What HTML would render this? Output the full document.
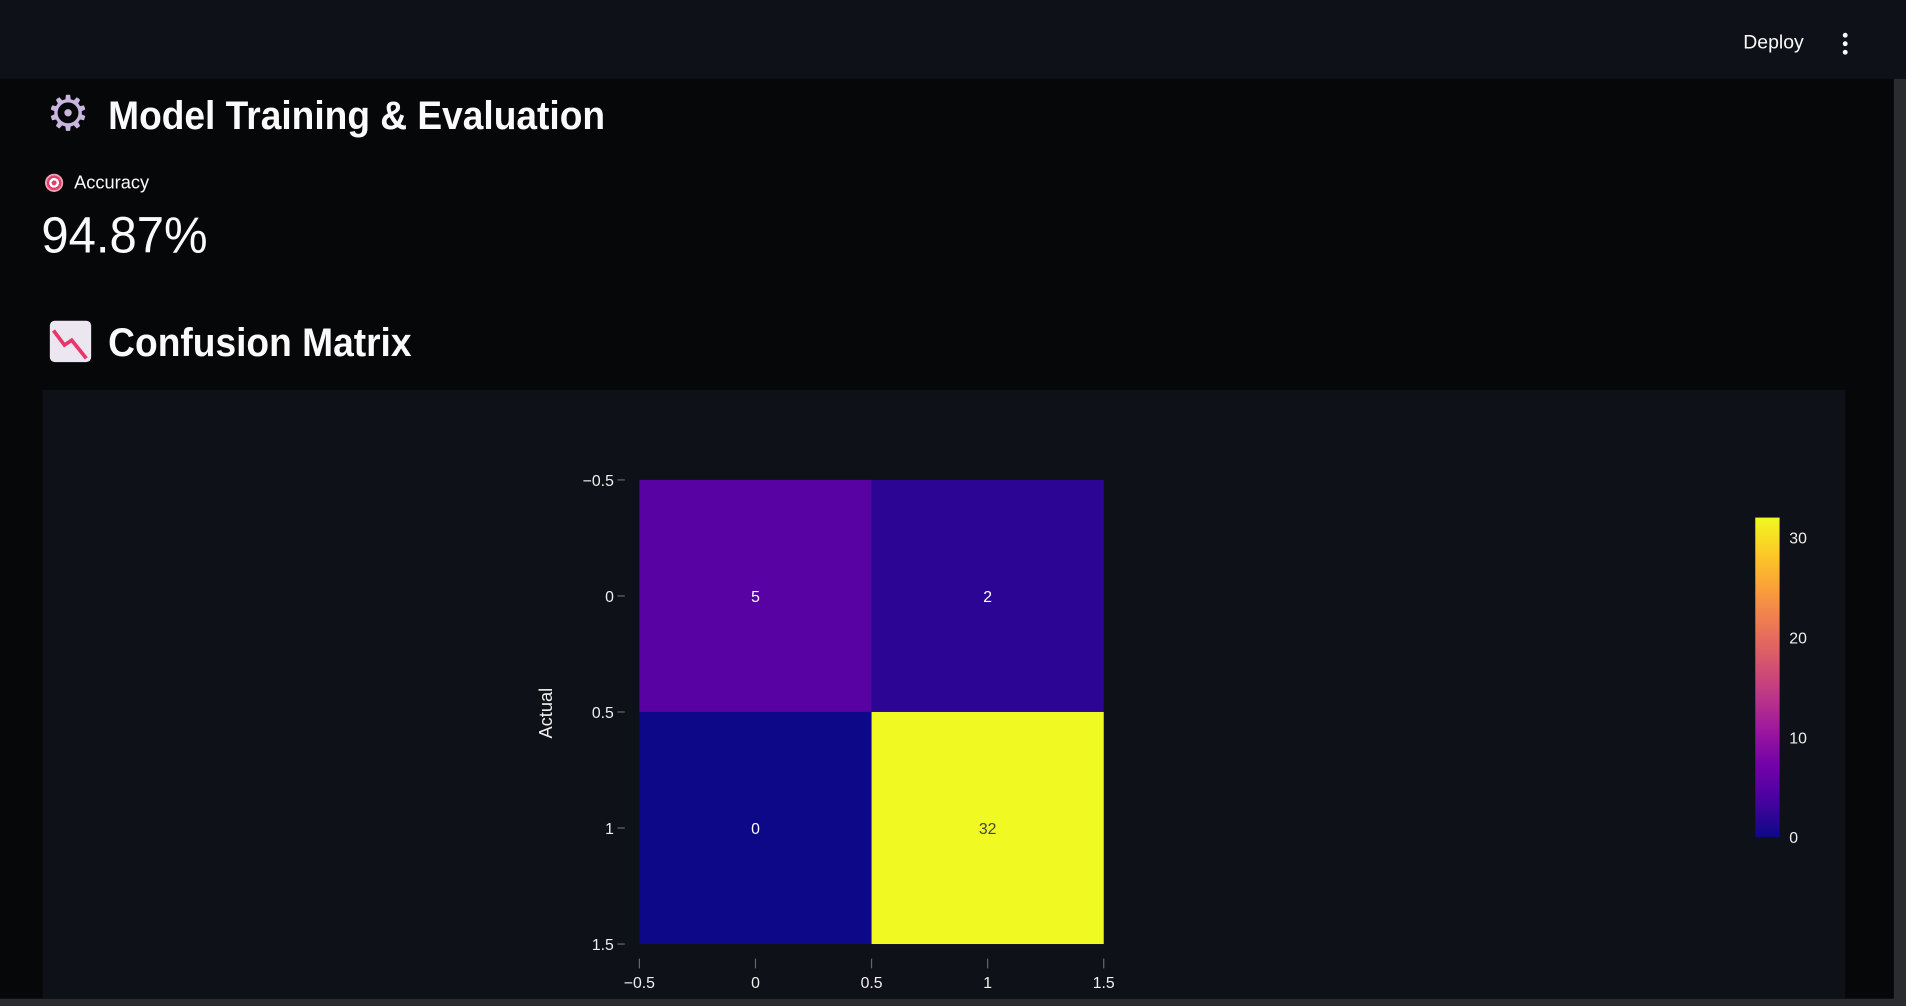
<!DOCTYPE html>
<html><head><meta charset="utf-8">
<style>
html,body{margin:0;padding:0;width:1906px;height:1006px;overflow:hidden;background:#060709;}
#wrap{position:absolute;left:0;top:0;width:1568px;height:828px;transform:scale(1.21556,1.21498);transform-origin:0 0;font-family:"Liberation Sans","DejaVu Sans",sans-serif;color:#fafafa;}
.abs{position:absolute;}
</style></head>
<body>
<div id="wrap">
  <div class="abs" style="left:0;top:0;width:1568px;height:65px;background:#0e1117;"></div>
  <div class="abs" style="left:1424px;top:24px;width:70px;height:24px;font-size:16px;line-height:24px;text-align:center;">Deploy</div>
  <div class="abs" style="left:1508px;top:24px;width:20px;height:24px;">
    <div style="position:absolute;left:8px;top:3px;width:4px;height:4px;border-radius:2px;background:#fafafa"></div>
    <div style="position:absolute;left:8px;top:10px;width:4px;height:4px;border-radius:2px;background:#fafafa"></div>
    <div style="position:absolute;left:8px;top:17px;width:4px;height:4px;border-radius:2px;background:#fafafa"></div>
  </div>
  <div class="abs" style="left:1558px;top:65px;width:10px;height:763px;background:#2a2c30;"></div>
  <div class="abs" style="left:0;top:822px;width:1568px;height:6px;background:#2a2c30;"></div>

  <div class="abs" style="left:38px;top:74px;width:40px;height:40px;font-size:40px;line-height:40px;color:#c8b6e0;">⚙</div>
  <div class="abs" style="left:89px;top:74px;font-size:33px;font-weight:bold;line-height:42px;white-space:nowrap;transform:scaleX(0.925);transform-origin:0 0;">Model Training &amp; Evaluation</div>

  <div class="abs" style="left:37px;top:143px;width:15px;height:15px;border-radius:50%;background:radial-gradient(circle,#e0406a 0 2px,#fff 2px 4px,#e0406a 4px 6px,#f0a0b0 6px);"></div>
  <div class="abs" style="left:61px;top:141px;font-size:15px;line-height:20px;">Accuracy</div>
  <div class="abs" style="left:34px;top:168px;font-size:42px;line-height:52px;transform:scaleX(0.96);transform-origin:0 0;">94.87%</div>

  <div class="abs" style="left:41px;top:264px;width:34px;height:34px;border-radius:4px;background:#ece6f0;overflow:hidden;">
    <svg width="34" height="34"><polyline points="3,8 12,20 18,16 30,31" fill="none" stroke="#e8356a" stroke-width="3"/></svg>
  </div>
  <div class="abs" style="left:89px;top:261px;font-size:33px;font-weight:bold;line-height:42px;white-space:nowrap;transform:scaleX(0.926);transform-origin:0 0;">Confusion Matrix</div>

  <div class="abs" style="left:35px;top:321px;width:1483px;height:501px;background:#0e1117;"></div>
  <svg id="chart" class="abs" style="left:0;top:0;" width="1568" height="828"></svg>
</div>
<script>
const xCats=[0,1];
const yCats=[0,1];
const zValues=[[5,2],[0,32]];
const tickLabels=[-0.5,0,0.5,1,1.5];
const cbTicks=[0,10,20,30];
const zMin=0, zMax=32;

const NS='http://www.w3.org/2000/svg';
const svg=document.getElementById('chart');
const px0=526, px1=908, py0=395, py1=777;
function xs(v){return px0+(v+0.5)/2*(px1-px0);}
function ys(v){return py0+(v+0.5)/2*(py1-py0);}
const plasma=['#0d0887','#46039f','#7201a8','#9c179e','#bd3786','#d8576b','#ed7953','#fb9f3a','#fdca26','#f0f921'];
function hex(h){return [1,3,5].map(i=>parseInt(h.substr(i,2),16));}
function color(z){let t=(z-zMin)/(zMax-zMin)*(plasma.length-1);let i=Math.min(Math.floor(t),plasma.length-2);let f=t-i;let a=hex(plasma[i]),b=hex(plasma[i+1]);return 'rgb('+a.map((c,k)=>Math.round(c+(b[k]-c)*f)).join(',')+')';}
function mk(tag,attrs,text){const e=document.createElementNS(NS,tag);for(const k in attrs)e.setAttribute(k,attrs[k]);if(text!==undefined)e.textContent=text;svg.appendChild(e);return e;}
const F='"Liberation Sans","DejaVu Sans",sans-serif';
yCats.forEach((yv,r)=>{xCats.forEach((xv,c)=>{
  const z=zValues[r][c];
  const rect=mk('rect',{x:xs(xv-0.5),y:ys(yv-0.5),width:xs(xv+0.5)-xs(xv-0.5),height:ys(yv+0.5)-ys(yv-0.5),fill:color(z)});
  
  
  const t=mk('text',{x:xs(xv),y:ys(yv)+5,'text-anchor':'middle','font-size':13,'font-family':F,fill:z>20?'#444':'#fff'},String(z));
  
  
});});
tickLabels.forEach(v=>{
  const l=mk('line',{x1:508,x2:514,y1:ys(v),y2:ys(v),stroke:'#666'});
  
  
  const t=mk('text',{x:505,y:ys(v)+5,'text-anchor':'end','font-size':13,'font-family':F,fill:'#f0f0f0'},v<0?'\u2212'+Math.abs(v):String(v));
  
  
  const l2=mk('line',{x1:xs(v),x2:xs(v),y1:789,y2:797,stroke:'#666'});
  
  
  const t2=mk('text',{x:xs(v),y:813,'text-anchor':'middle','font-size':13,'font-family':F,fill:'#f0f0f0'},v<0?'\u2212'+Math.abs(v):String(v));
  
  
});
const yt=mk('text',{x:0,y:0,transform:'translate(454,587) rotate(-90)','text-anchor':'middle','font-size':15,'font-family':F,fill:'#f0f0f0'},'Actual');


const cbX=1444,cbW=20,cbTop=426,cbBot=689;
function cs(v){return cbBot-(v-zMin)/(zMax-zMin)*(cbBot-cbTop);}
const defs=mk('defs',{});
const g=document.createElementNS(NS,'linearGradient');g.setAttribute('id','pl');g.setAttribute('x1','0');g.setAttribute('y1','1');g.setAttribute('x2','0');g.setAttribute('y2','0');
plasma.forEach((c,i)=>{const s=document.createElementNS(NS,'stop');s.setAttribute('offset',i/(plasma.length-1));s.setAttribute('stop-color',c);g.appendChild(s);});
defs.appendChild(g);
const cb=mk('rect',{x:cbX,y:cbTop,width:cbW,height:cbBot-cbTop,fill:'url(#pl)'});


cbTicks.forEach(v=>{
  const t=mk('text',{x:1472,y:cs(v)+5,'font-size':13,'font-family':F,fill:'#f0f0f0'},String(v));
  
  
});
</script>
</body></html>
